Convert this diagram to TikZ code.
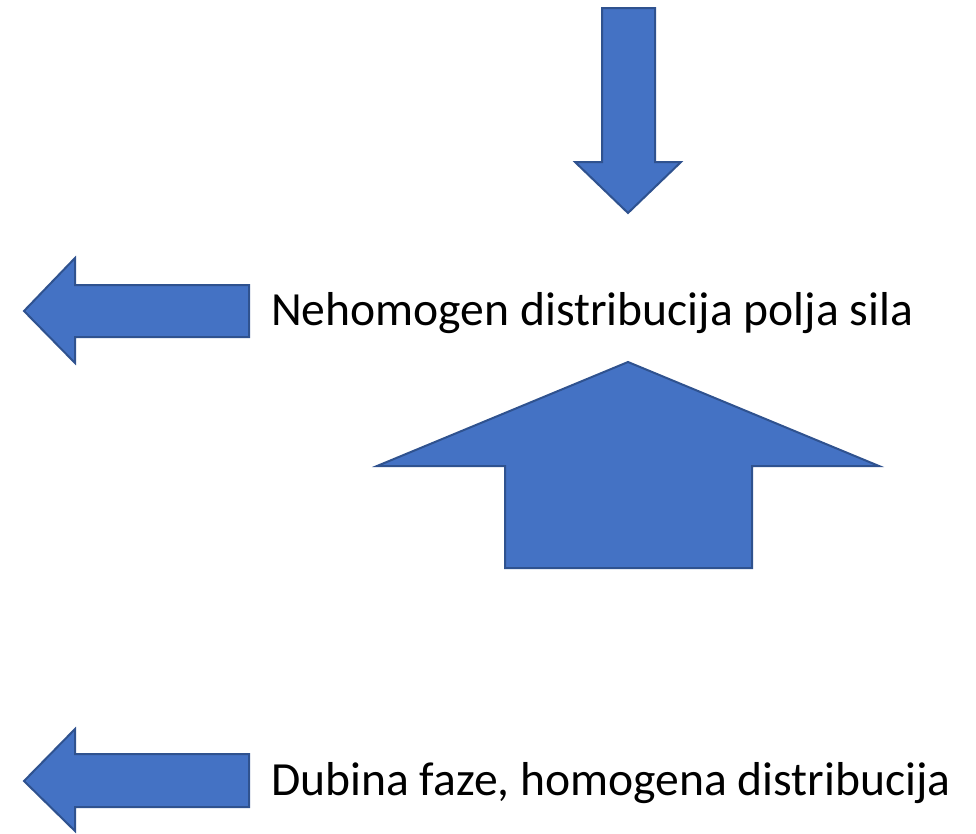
\documentclass[tikz,border=0pt]{standalone}
\usepackage{fontspec}
\setmainfont{Carlito}
\definecolor{arrfill}{HTML}{4472C4}
\definecolor{arrline}{HTML}{2F528F}
\begin{document}
\begin{tikzpicture}[x=1pt,y=-1pt,
  bigarrow/.style={fill=arrfill,draw=arrline,line width=2pt,line join=miter},
  label/.style={anchor=base west,inner sep=0pt,font=\fontsize{47.6}{52}\selectfont}]
\useasboundingbox (0,0) rectangle (976,833);
% down arrow
\draw[bigarrow] (602,8) -- (655,8) -- (655,162) -- (681,162) -- (628,213) -- (575,162) -- (602,162) -- cycle;
% left arrow 1
\draw[bigarrow] (249,285) -- (249,337) -- (75,337) -- (75,363) -- (24,311) -- (75,258) -- (75,285) -- cycle;
% up arrow
\draw[bigarrow] (628,362) -- (879,466) -- (752,466) -- (752,568) -- (505,568) -- (505,466) -- (377,466) -- cycle;
% left arrow 2
\draw[bigarrow] (249,754) -- (249,807) -- (75,807) -- (75,831) -- (24,781) -- (75,729) -- (75,754) -- cycle;
\node[label] (t1) at (271,325) {Nehomogen distribucija polja sila};
\node[label] (t2) at (271,795) {Dubina faze, homogena distribucija};
\end{tikzpicture}
\end{document}
